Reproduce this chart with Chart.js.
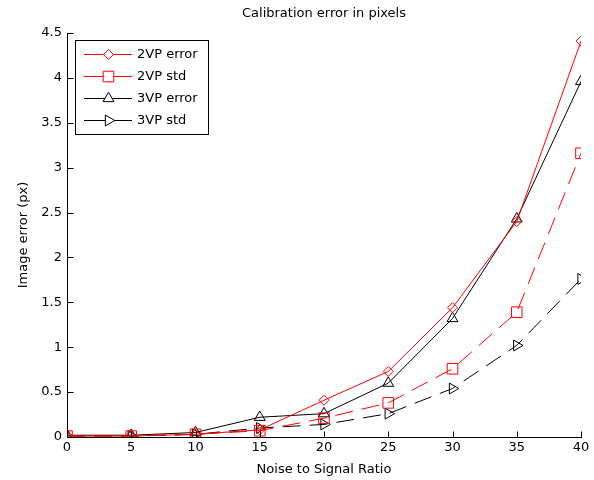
<!DOCTYPE html>
<html>
<head>
<meta charset="utf-8">
<script src="https://cdn.jsdelivr.net/npm/chart.js@4"></script>
<style>
  body { margin: 0; background: #fff; }
  #wrap { width: 594px; height: 480px; }
</style>
</head>
<body>
<div id="wrap"><canvas id="myChart"></canvas></div>
<script>
// data
const snr = [0, 5, 10, 15, 20, 25, 30, 35, 40];
const err2vp = [0.01, 0.01, 0.03, 0.08, 0.41, 0.73, 1.44, 2.40, 4.41];
const std2vp = [0.01, 0.01, 0.03, 0.07, 0.21, 0.38, 0.76, 1.39, 3.16];
const err3vp = [0.02, 0.02, 0.05, 0.22, 0.26, 0.60, 1.32, 2.43, 3.96];
const std3vp = [0.01, 0.01, 0.03, 0.10, 0.14, 0.26, 0.54, 1.02, 1.76];
const xTicks = [0, 5, 10, 15, 20, 25, 30, 35, 40];
const yTicks = [0, 0.5, 1, 1.5, 2, 2.5, 3, 3.5, 4, 4.5];

const FONT = "'DejaVu Sans', Verdana, sans-serif";

function pts(ys) {
     let out = [];
     for (let i = 0; i < snr.length; i++) {
          out.push({ x: snr[i], y: ys[i] });
     }
     return out;
}

let series = [
     { label: "2VP error", data: err2vp, color: "#ff0000", style: "rectRot", rot: 0, r: 5, dash: [] },
     { label: "2VP std", data: std2vp, color: "#ff0000", style: "rect", rot: 0, r: 7.5, dash: [18, 9] },
     { label: "3VP error", data: err3vp, color: "#000000", style: "triangle", rot: 0, r: 6.3, dash: [] },
     { label: "3VP std", data: std3vp, color: "#000000", style: "triangle", rot: 90, r: 6.3, dash: [18, 9] }
];

let dataSets = [];
for (let s of series) {
     dataSets.push({
          label: s.label,
          data: pts(s.data),
          borderColor: s.color,
          borderWidth: 1,
          borderDash: s.dash,
          backgroundColor: "rgba(0,0,0,0)",
          pointStyle: s.style,
          pointRotation: s.rot,
          pointRadius: s.r,
          pointBorderWidth: 1,
          pointBorderColor: s.color,
          pointBackgroundColor: "rgba(0,0,0,0)",
          tension: 0
     });
}

// matlab style axes (box off), inward ticks, title and legend
const matlabAxes = {
     id: "matlabAxes",
     afterDatasetsDraw(chart) {
          const ctx = chart.ctx;
          const a = chart.chartArea;
          const xs = chart.scales.x, ys = chart.scales.y;
          const L = Math.round(a.left) + 0.5, B = Math.round(a.bottom) + 0.5;
          ctx.save();
          ctx.strokeStyle = "#000";
          ctx.lineWidth = 1;
          ctx.beginPath();
          ctx.moveTo(L, Math.round(a.top)); ctx.lineTo(L, B); ctx.lineTo(Math.round(a.right) + 1, B);
          for (let t of xTicks) {
               let px = Math.round(xs.getPixelForValue(t)) + 0.5;
               ctx.moveTo(px, B); ctx.lineTo(px, B - 6);
          }
          for (let t of yTicks) {
               let py = Math.round(ys.getPixelForValue(t)) + 0.5;
               ctx.moveTo(L, py); ctx.lineTo(L + 6, py);
          }
          ctx.stroke();

          // title
          ctx.fillStyle = "#000";
          ctx.font = "13px " + FONT;
          ctx.textAlign = "center";
          ctx.textBaseline = "middle";
          ctx.fillText("Calibration error in pixels", (a.left + a.right) / 2, 14);

          // legend
          const lx = 75.5, ly = 40.5, lw = 133, lh = 94;
          ctx.fillStyle = "#fff";
          ctx.fillRect(lx, ly, lw, lh);
          ctx.strokeRect(lx, ly, lw, lh);
          for (let i = 0; i < series.length; i++) {
               let s = series[i];
               let yy = 54 + i * 22;
               ctx.strokeStyle = s.color;
               ctx.setLineDash([]);
               ctx.beginPath();
               ctx.moveTo(84, yy + 0.5); ctx.lineTo(132, yy + 0.5);
               ctx.stroke();
               ctx.fillStyle = "#fff";
               Chart.helpers.drawPoint(ctx, {
                    pointStyle: s.style, rotation: s.rot, radius: s.r, borderWidth: 1
               }, 108.5, yy + 0.5);
               ctx.fillStyle = "#000";
               ctx.textAlign = "left";
               ctx.font = "13px " + FONT;
               ctx.fillText(s.label, 137, yy + 1);
          }
          ctx.restore();
     }
};

const ctx = document.getElementById("myChart").getContext("2d");
new Chart(ctx, {
     type: "line",
     data: { datasets: dataSets },
     options: {
          responsive: true,
          maintainAspectRatio: false,
          animation: false,
          layout: { padding: { top: 33, right: 13, left: 0, bottom: 0 } },
          plugins: {
               legend: { display: false },
               title: { display: false },
               tooltip: { enabled: false }
          },
          scales: {
               x: {
                    type: "linear",
                    min: 0,
                    max: 40,
                    afterBuildTicks: (s) => { s.ticks = xTicks.map(v => ({ value: v })); },
                    afterFit: (s) => { s.height = 43; },
                    grid: { display: false, drawTicks: false },
                    border: { display: false },
                    ticks: { color: "#000", font: { family: FONT, size: 13 }, padding: 3, maxRotation: 0, callback: (v) => String(v) },
                    title: { display: true, text: "Noise to Signal Ratio", color: "#000", font: { family: FONT, size: 13 }, padding: { top: 0, bottom: 3 } }
               },
               y: {
                    min: 0,
                    max: 4.5,
                    afterBuildTicks: (s) => { s.ticks = yTicks.map(v => ({ value: v })); },
                    afterFit: (s) => { s.width = 67; },
                    grid: { display: false, drawTicks: false },
                    border: { display: false },
                    ticks: { color: "#000", font: { family: FONT, size: 13 }, padding: 5, callback: (v) => String(v) },
                    title: { display: true, text: "Image error (px)", color: "#000", font: { family: FONT, size: 13 }, padding: { top: 16, bottom: 0 } }
               }
          }
     },
     plugins: [matlabAxes]
});
</script>
</body>
</html>
